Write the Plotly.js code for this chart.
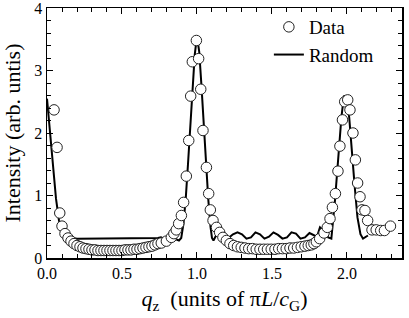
<!DOCTYPE html>
<html>
<head>
<meta charset="utf-8">
<script src="https://cdn.plot.ly/plotly-3.0.1.min.js"></script>
<style>html,body{margin:0;padding:0;background:#fff;}#chart{width:409px;height:318px;}</style>
</head>
<body>
<div id="chart"></div>
<script>
// Measured data (circles)
const dataX = [0.047, 0.067, 0.085, 0.100, 0.120, 0.140, 0.160, 0.180, 0.200, 0.220, 0.240, 0.260, 0.280, 0.300,
  0.320, 0.340, 0.360, 0.380, 0.400, 0.420, 0.440, 0.460, 0.480, 0.500, 0.520, 0.540, 0.560, 0.580, 0.600,
  0.620, 0.640, 0.660, 0.680, 0.700, 0.720, 0.740, 0.762, 0.796, 0.829, 0.846, 0.862, 0.878, 0.896, 0.911,
  0.929, 0.945, 0.958, 0.969, 0.996, 1.011, 1.025, 1.040, 1.063, 1.078, 1.089, 1.107, 1.130, 1.151, 1.173,
  1.196, 1.220, 1.245, 1.270, 1.295, 1.320, 1.345, 1.370, 1.395, 1.420, 1.445, 1.470, 1.495, 1.520, 1.545,
  1.570, 1.595, 1.620, 1.645, 1.670, 1.695, 1.720, 1.742, 1.762, 1.780, 1.796, 1.818, 1.847, 1.869, 1.887,
  1.903, 1.923, 1.940, 1.953, 1.970, 1.985, 2.005, 2.020, 2.040, 2.056, 2.071, 2.087, 2.100, 2.120, 2.138,
  2.167, 2.195, 2.225, 2.250, 2.290];
const dataY = [2.37, 1.77, 0.72, 0.51, 0.39, 0.32, 0.27, 0.23, 0.20, 0.18, 0.16, 0.15, 0.14, 0.13,
  0.13, 0.12, 0.12, 0.12, 0.12, 0.12, 0.12, 0.12, 0.12, 0.12, 0.13, 0.13, 0.13, 0.14, 0.14,
  0.15, 0.16, 0.17, 0.18, 0.19, 0.21, 0.23, 0.24, 0.27, 0.33, 0.39, 0.45, 0.55, 0.68, 0.89,
  1.31, 1.88, 2.59, 3.14, 3.48, 3.19, 2.70, 2.04, 1.45, 1.03, 0.77, 0.60, 0.49, 0.41, 0.33,
  0.28, 0.23, 0.20, 0.18, 0.17, 0.16, 0.15, 0.15, 0.14, 0.14, 0.14, 0.14, 0.14, 0.14, 0.15,
  0.15, 0.15, 0.16, 0.16, 0.17, 0.18, 0.19, 0.20, 0.21, 0.23, 0.26, 0.31, 0.40, 0.49, 0.63,
  0.81, 1.03, 1.39, 1.79, 2.21, 2.50, 2.53, 2.37, 2.00, 1.57, 1.20, 0.98, 0.77, 0.76, 0.60,
  0.45, 0.45, 0.44, 0.44, 0.51];
// Random model (line)
const modelX = [0.000, 0.020, 0.040, 0.060, 0.080, 0.100, 0.120, 0.150, 0.200, 0.300, 0.400, 0.500, 0.600,
  0.700, 0.740, 0.760, 0.780, 0.820, 0.860, 0.880, 0.895, 0.910, 0.925, 0.940, 0.955, 0.970, 0.985, 1.000,
  1.015, 1.030, 1.045, 1.060, 1.075, 1.090, 1.100, 1.110, 1.125, 1.140, 1.160, 1.180, 1.210, 1.240, 1.270,
  1.300, 1.330, 1.360, 1.390, 1.420, 1.450, 1.480, 1.510, 1.540, 1.570, 1.600, 1.630, 1.660, 1.690, 1.720,
  1.750, 1.780, 1.800, 1.820, 1.850, 1.875, 1.896, 1.920, 1.940, 1.963, 1.980, 1.995, 2.015, 2.030, 2.050,
  2.070, 2.090, 2.107, 2.125, 2.140];
const modelY = [2.55, 2.05, 1.45, 0.95, 0.60, 0.43, 0.36, 0.33, 0.31, 0.31, 0.31, 0.31, 0.31,
  0.31, 0.32, 0.33, 0.31, 0.31, 0.30, 0.28, 0.32, 0.55, 0.95, 1.50, 2.10, 2.70, 3.25, 3.55,
  3.30, 2.75, 2.10, 1.50, 0.95, 0.50, 0.32, 0.28, 0.35, 0.42, 0.38, 0.31, 0.32, 0.38, 0.41,
  0.38, 0.31, 0.33, 0.41, 0.38, 0.31, 0.34, 0.41, 0.37, 0.31, 0.33, 0.41, 0.39, 0.31, 0.33,
  0.40, 0.36, 0.34, 0.49, 0.42, 0.33, 0.31, 0.92, 1.56, 2.25, 2.60, 2.55, 2.25, 1.72, 1.19,
  0.65, 0.38, 0.31, 0.34, 0.36];
const xTickVals = [0, 0.5, 1.0, 1.5, 2.0];
const xTickText = ['0.0', '0.5', '1.0', '1.5', '2.0'];
const yTickVals = [0, 1, 2, 3, 4];
const yTickText = ['0', '1', '2', '3', '4'];

const FONT = 'Liberation Serif, Times New Roman, serif';

const traces = [
  {x: modelX, y: modelY, type: 'scatter', mode: 'lines', name: 'Random',
   line: {color: '#000', width: 2}},
  {x: dataX, y: dataY, type: 'scatter', mode: 'markers', name: 'Data',
   marker: {symbol: 'circle', size: 10.5, color: '#fff', line: {color: '#222', width: 1}}}
];

const axisCommon = {
  showline: true, linecolor: '#000', linewidth: 1.5, mirror: 'allticks',
  ticks: 'inside', ticklen: 6, tickwidth: 1, tickcolor: '#000',
  showgrid: false, zeroline: false, ticklabeloverflow: 'allow',
  tickfont: {family: FONT, size: 16, color: '#000'}
};

const layout = {
  width: 409, height: 318,
  margin: {l: 47, r: 7, t: 8, b: 60},
  paper_bgcolor: '#fff', plot_bgcolor: '#fff',
  font: {family: FONT, color: '#000'},
  showlegend: true,
  legend: {x: 0.625, y: 1.0, xanchor: 'left', yanchor: 'top', traceorder: 'reversed',
           bgcolor: 'rgba(0,0,0,0)', font: {family: FONT, size: 19, color: '#000'}},
  xaxis: Object.assign({}, axisCommon, {
    range: [0, 2.367], tickvals: xTickVals, ticktext: xTickText,
    minor: {dtick: 0.1, ticks: 'inside', ticklen: 4, tickcolor: '#000', tickwidth: 1, showgrid: false},
    title: {text: '<i>q</i><sub>z</sub>  (units of π<i>L</i>/<i>c</i><sub>G</sub>)', font: {family: FONT, size: 22, color: '#000'}, standoff: 10}
  }),
  yaxis: Object.assign({}, axisCommon, {
    range: [0, 4], tickvals: yTickVals, ticktext: yTickText,
    minor: {dtick: 0.2, ticks: 'inside', ticklen: 4, tickcolor: '#000', tickwidth: 1, showgrid: false},
    title: {text: 'Intensity (arb. untis)', font: {family: FONT, size: 22, color: '#000'}, standoff: 7}
  })
};

Plotly.newPlot('chart', traces, layout, {displayModeBar: false, staticPlot: true});
</script>
</body>
</html>
